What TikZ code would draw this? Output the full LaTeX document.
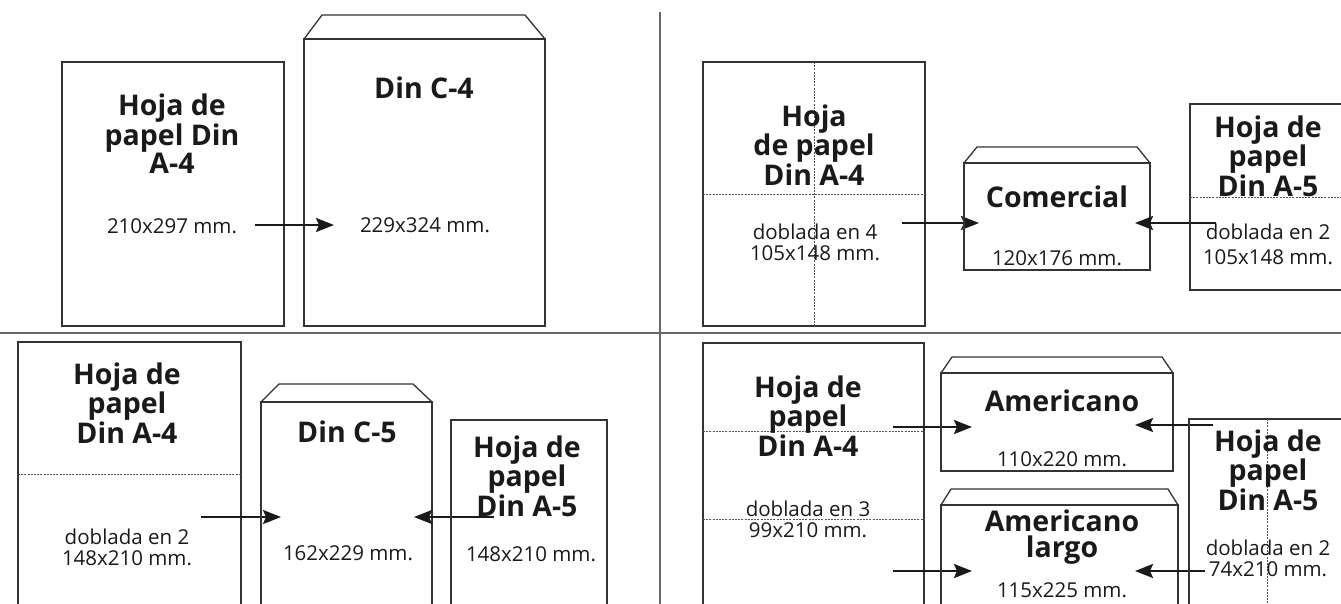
\documentclass[tikz,border=0pt]{standalone}
\usepackage{fontspec}
\setmainfont{Open Sans}
\usetikzlibrary{arrows.meta,calc}
\definecolor{linec}{HTML}{333333}
\definecolor{textc}{HTML}{1A1A1A}
\definecolor{divc}{HTML}{666666}
\definecolor{foldc}{HTML}{555555}
\begin{document}
\begin{tikzpicture}[x=1pt,y=-1pt,
 sheet/.style={draw=linec, line width=1.3pt, inner sep=0pt, outer sep=0pt, anchor=north west},
 sheetline/.style={draw=linec, line width=1.3pt, line join=miter},
 fold/.style={draw=foldc, line width=0.8pt, dash pattern=on 2pt off 1.2pt},
 title/.style={font=\bfseries\fontsize{28.5}{26.5}\selectfont, align=center, text=textc, inner sep=0pt},
 dim/.style={font=\fontsize{20.5}{21}\selectfont, align=center, text=textc, inner sep=0pt},
 arr/.style={line width=2.5pt, draw=textc, -{Stealth[length=18pt,width=14pt,inset=3pt]}},
 divider/.style={draw=divc, line width=1.5pt}
]
\useasboundingbox (0,0) rectangle (1341,603);
\clip (0,0) rectangle (1341,603);
\fill[white] (0,0) rectangle (1341,603);

% dividers
\coordinate (dvT) at (660,12); \coordinate (dvB) at (660,610);
\coordinate (dhL) at (0,333); \coordinate (dhR) at (1345,333);
\draw[divider] (dvT) -- (dvB);
\draw[divider] (dhL) -- (dhR);

% ---------- top left ----------
\node[sheet, minimum width=222, minimum height=264] (tlA4) at (62,62) {};
\node[title] (tlA4t) at (172,134) {Hoja de\\papel Din\\A-4};
\node[dim] (tlA4d) at (172,226) {210x297 mm.};
\node[sheet, minimum width=241, minimum height=287] (tlC4) at (304,39) {};
\draw[sheetline] (tlC4.north west) -- ++(18,-24) -- ($(tlC4.north east)+(-20,-24)$) -- (tlC4.north east);
\node[title] (tlC4t) at (424,88) {Din C-4};
\node[dim] (tlC4d) at (425,225) {229x324 mm.};
\coordinate (tlArS) at (255,225); \coordinate (tlArE) at (334,225);
\draw[arr] (tlArS) -- (tlArE);

% ---------- top right ----------
\node[sheet, minimum width=222, minimum height=264] (trA4) at (703,62) {};
\draw[fold] (trA4.north) -- (trA4.south);
\draw[fold] (trA4.west) -- (trA4.east);
\node[title] (trA4t) at (814,145) {Hoja\\de papel\\Din A-4};
\node[dim] (trA4d) at (815,242) {doblada en 4\\105x148 mm.};
\coordinate (trArS) at (902,223); \coordinate (trArE) at (979,223);
\draw[arr] (trArS) -- (trArE);
\node[sheet, minimum width=186, minimum height=107] (com) at (964,163) {};
\draw[sheetline] (com.north west) -- ++(13,-16) -- ($(com.north east)+(-13,-16)$) -- (com.north east);
\node[title] (comt) at (1057,197) {Comercial};
\node[dim] (comd) at (1057,258) {120x176 mm.};
\coordinate (trBrS) at (1216,223); \coordinate (trBrE) at (1135,223);
\draw[arr] (trBrS) -- (trBrE);
\node[sheet, minimum width=160, minimum height=186] (trA5) at (1190,104) {};
\draw[fold] (trA5.west) -- (trA5.east);
\node[title] (trA5t) at (1268,156) {Hoja de\\papel\\Din A-5};
\node[dim, font=\fontsize{20.5}{25}\selectfont] (trA5d) at (1268,244) {doblada en 2\\105x148 mm.};

% ---------- bottom left ----------
\node[sheet, minimum width=223, minimum height=264] (blA4) at (18,342) {};
\draw[fold] (blA4.west) -- (blA4.east);
\node[title] (blA4t) at (127,403) {Hoja de\\papel\\Din A-4};
\node[dim] (blA4d) at (127,547) {doblada en 2\\148x210 mm.};
\coordinate (blArS) at (201,517); \coordinate (blArE) at (281,517);
\draw[arr] (blArS) -- (blArE);
\node[sheet, minimum width=171, minimum height=220] (c5) at (261,402) {};
\draw[sheetline] (c5.north west) -- ++(18,-18) -- ($(c5.north east)+(-19,-18)$) -- (c5.north east);
\node[title] (c5t) at (347,432) {Din C-5};
\node[dim] (c5d) at (348,553) {162x229 mm.};
\coordinate (blBrS) at (494,517); \coordinate (blBrE) at (414,517);
\draw[arr] (blBrS) -- (blBrE);
\node[sheet, minimum width=156, minimum height=200] (blA5) at (451,420) {};
\node[title] (blA5t) at (527,476) {Hoja de\\papel\\Din A-5};
\node[dim] (blA5d) at (531,554) {148x210 mm.};

% ---------- bottom right ----------
\node[sheet, minimum width=221, minimum height=264] (brA4) at (703,343) {};
\draw[fold] ($(brA4.north west)+(0,88)$) -- ($(brA4.north east)+(0,88)$);
\draw[fold] ($(brA4.north west)+(0,176)$) -- ($(brA4.north east)+(0,176)$);
\node[title] (brA4t) at (808,416) {Hoja de\\papel\\Din A-4};
\node[dim] (brA4d) at (808,519) {doblada en 3\\99x210 mm.};
\coordinate (brArS) at (893,427); \coordinate (brArE) at (972,427);
\draw[arr] (brArS) -- (brArE);
\coordinate (brCrS) at (893,571); \coordinate (brCrE) at (972,571);
\draw[arr] (brCrS) -- (brCrE);
\node[sheet, minimum width=232, minimum height=98] (am) at (941,373) {};
\draw[sheetline] (am.north west) -- ++(11,-16) -- ($(am.north east)+(-11,-16)$) -- (am.north east);
\node[title] (amt) at (1062,401) {Americano};
\node[dim] (amd) at (1062,459) {110x220 mm.};
\coordinate (brBrS) at (1213,425); \coordinate (brBrE) at (1135,425);
\draw[arr] (brBrS) -- (brBrE);
\node[sheet, minimum width=237, minimum height=120] (aml) at (941,505) {};
\draw[sheetline] (aml.north west) -- ++(10,-16) -- ($(aml.north east)+(-10,-16)$) -- (aml.north east);
\node[title] (amlt) at (1062,537) {Americano\\largo};
\node[dim] (amld) at (1062,590) {115x225 mm.};
\coordinate (brDrS) at (1205,571); \coordinate (brDrE) at (1135,571);
\draw[arr] (brDrS) -- (brDrE);
\node[sheet, minimum width=160, minimum height=200] (brA5) at (1189,419) {};
\draw[fold] ($(brA5.north west)+(78,0)$) -- ($(brA5.south west)+(78,0)$);
\node[title] (brA5t) at (1268,470) {Hoja de\\papel\\Din A-5};
\node[dim] (brA5d) at (1268,558) {doblada en 2\\74x210 mm.};
\end{tikzpicture}
\end{document}
